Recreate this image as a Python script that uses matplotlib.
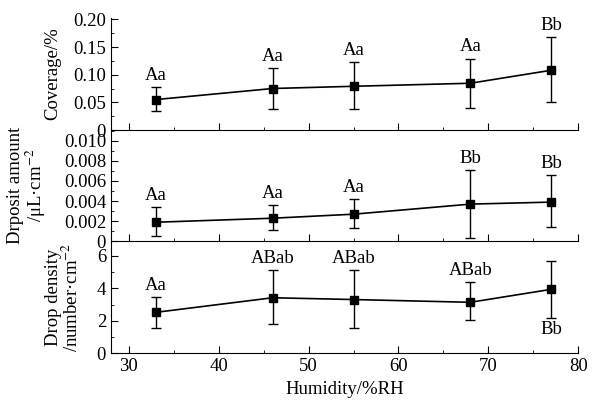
import numpy as np
import matplotlib.pyplot as plt
from matplotlib.ticker import MultipleLocator

plt.rcParams['font.family'] = ['Liberation Serif', 'DejaVu Serif']
plt.rcParams['mathtext.fontset'] = 'stix'

humidity = [33, 46, 55, 68, 77]

coverage = [0.055, 0.075, 0.079, 0.0845, 0.108]
coverage_lo = [0.034, 0.038, 0.0375, 0.039, 0.050]
coverage_hi = [0.077, 0.112, 0.122, 0.129, 0.168]
coverage_lab = ['Aa', 'Aa', 'Aa', 'Aa', 'Bb']

deposit = [0.0019, 0.0023, 0.0027, 0.0037, 0.0039]
deposit_lo = [0.0005, 0.0011, 0.0013, 0.0003, 0.0014]
deposit_hi = [0.0034, 0.0036, 0.0042, 0.0071, 0.0066]
deposit_lab = ['Aa', 'Aa', 'Aa', 'Bb', 'Bb']

density = [2.52, 3.42, 3.31, 3.14, 3.94]
density_lo = [1.58, 1.79, 1.54, 2.02, 2.20]
density_hi = [3.46, 5.14, 5.14, 4.39, 5.70]
density_lab = ['Aa', 'ABab', 'ABab', 'ABab', 'Bb']

fig = plt.figure(figsize=(5.93, 4.05), dpi=100)
left, right = 0.187, 0.975
bottoms = [0.679, 0.404, 0.128]
h = 0.276

panels = [
    (coverage, coverage_lo, coverage_hi, coverage_lab, (0, 0.202), 0.05, 0.025,
     'Coverage/%', -0.107, ['0', '0.05', '0.10', '0.15', '0.20']),
    (deposit, deposit_lo, deposit_hi, deposit_lab, (0, 0.0111), 0.002, 0.001,
     'Drposit amount\n/μL·cm$^{-2}$', -0.135, ['0', '0.002', '0.004', '0.006', '0.008', '0.010']),
    (density, density_lo, density_hi, density_lab, (0, 6.9), 2, 1,
     'Drop density\n/number·cm$^{-2}$', -0.062, ['0', '2', '4', '6']),
]

for i, (y, lo, hi, lab, ylim, maj, mnr, ylabel, lx, ticklabels) in enumerate(panels):
    ax = fig.add_axes([left, bottoms[i], right - left, h])
    y = np.array(y)
    yerr = [y - np.array(lo), np.array(hi) - y]
    ax.errorbar(humidity, y, yerr=yerr, color='black', marker='s', ms=6,
                lw=1.2, elinewidth=1.0, capsize=3.5, capthick=1.0)
    ax.set_xlim(28, 80)
    ax.xaxis.set_major_locator(MultipleLocator(10))
    ax.xaxis.set_minor_locator(MultipleLocator(5))
    ax.set_yticks(np.arange(len(ticklabels)) * maj)
    ax.set_yticklabels(ticklabels)
    ax.yaxis.set_minor_locator(MultipleLocator(mnr))
    ax.set_ylim(*ylim)
    ax.spines['top'].set_visible(False)
    ax.spines['right'].set_visible(False)
    ax.tick_params(direction='in', which='major', length=5, labelsize=13.5)
    ax.tick_params(direction='in', which='minor', length=2.5)
    ax.set_ylabel(ylabel, fontsize=13.5, linespacing=0.95)
    ax.yaxis.set_label_coords(lx, 0.5)
    if i < 2:
        ax.tick_params(axis='x', labelbottom=False)
    else:
        ax.set_xlabel('Humidity/%RH', fontsize=13.5)
    span = ylim[1]
    for j, x in enumerate(humidity):
        if i == 2 and j == 4:
            ax.text(x, lo[j] - 0.03 * span, lab[j], ha='center', va='top', fontsize=13.5)
        else:
            ax.text(x, hi[j] + 0.03 * span, lab[j], ha='center', va='bottom', fontsize=13.5)
    ax.patch.set_alpha(0)

fig.savefig('out.png', dpi=100)
